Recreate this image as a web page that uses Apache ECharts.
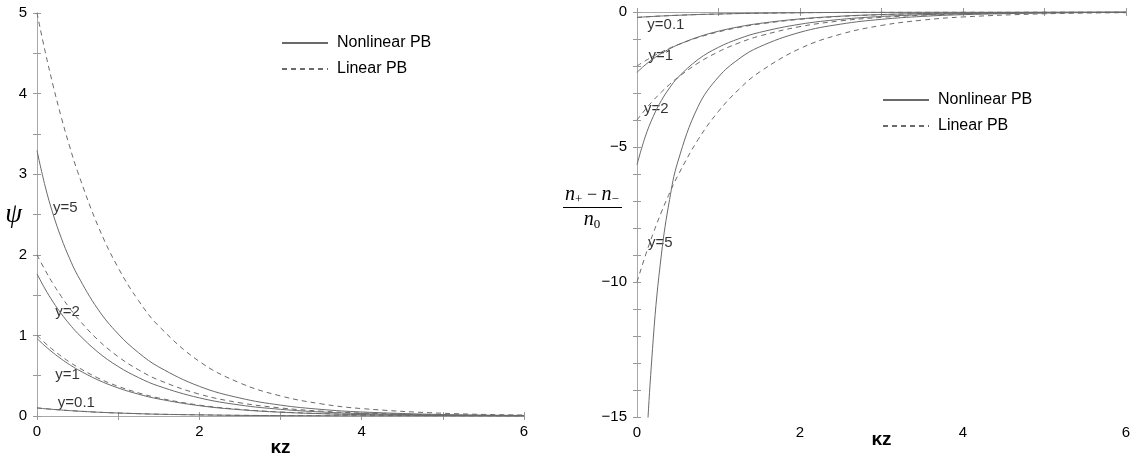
<!DOCTYPE html>
<html>
<head>
<meta charset="utf-8">
<script src="https://cdn.jsdelivr.net/npm/echarts@6/dist/echarts.min.js"></script>
<style>
html, body { margin: 0; padding: 0; background: #fff; }
#main { width: 1135px; height: 457px; }
</style>
</head>
<body>
<div id="main"></div>
<script>
// kz sample points (shared by every curve)
const kz = [0, 0.1, 0.2, 0.3, 0.4, 0.5, 0.75, 1, 1.25, 1.5, 2, 2.5, 3, 3.5, 4, 5, 6];

// left panel: psi
const psiNl5  = [3.294, 2.852, 2.498, 2.206, 1.958, 1.746, 1.326, 1.018, 0.786, 0.609, 0.368, 0.223, 0.135, 0.082, 0.050, 0.018, 0.007];
const psiNl2  = [1.763, 1.576, 1.412, 1.268, 1.141, 1.027, 0.793, 0.614, 0.477, 0.371, 0.225, 0.136, 0.083, 0.050, 0.030, 0.011, 0.004];
const psiNl1  = [0.962, 0.868, 0.783, 0.707, 0.638, 0.577, 0.448, 0.348, 0.271, 0.211, 0.128, 0.078, 0.047, 0.029, 0.017, 0.006, 0.002];
const psiNl01 = [0.100, 0.090, 0.082, 0.074, 0.067, 0.061, 0.047, 0.037, 0.029, 0.022, 0.014, 0.008, 0.005, 0.003, 0.002, 0.001, 0.000];
const psiLin5  = [5, 4.524, 4.094, 3.704, 3.352, 3.033, 2.362, 1.839, 1.433, 1.116, 0.677, 0.410, 0.249, 0.151, 0.092, 0.034, 0.012];
const psiLin2  = [2, 1.810, 1.637, 1.482, 1.341, 1.213, 0.945, 0.736, 0.573, 0.446, 0.271, 0.164, 0.100, 0.060, 0.037, 0.013, 0.005];
const psiLin1  = [1, 0.905, 0.819, 0.741, 0.670, 0.607, 0.472, 0.368, 0.287, 0.223, 0.135, 0.082, 0.050, 0.030, 0.018, 0.007, 0.002];
const psiLin01 = [0.1, 0.091, 0.082, 0.074, 0.067, 0.061, 0.047, 0.037, 0.029, 0.022, 0.014, 0.008, 0.005, 0.003, 0.002, 0.001, 0.000];

// right panel: (n+ - n-)/n0
const rhoNl5  = [-26.93, -17.27, -12.08, -8.965, -6.944, -5.554, -3.499, -2.405, -1.739, -1.295, -0.752, -0.449, -0.271, -0.164, -0.099, -0.037, -0.013];
const rhoNl2  = [-5.657, -4.629, -3.862, -3.274, -2.809, -2.434, -1.757, -1.307, -0.990, -0.758, -0.453, -0.273, -0.165, -0.100, -0.061, -0.022, -0.008];
const rhoNl1  = [-2.236, -1.962, -1.731, -1.534, -1.365, -1.218, -0.926, -0.711, -0.548, -0.425, -0.256, -0.155, -0.094, -0.057, -0.035, -0.013, -0.005];
const rhoNl01 = [-0.200, -0.181, -0.164, -0.148, -0.134, -0.121, -0.094, -0.074, -0.057, -0.045, -0.027, -0.016, -0.010, -0.006, -0.004, -0.001, 0];
const rhoLin5  = [-10, -9.048, -8.187, -7.408, -6.703, -6.065, -4.724, -3.679, -2.865, -2.231, -1.353, -0.821, -0.498, -0.302, -0.183, -0.067, -0.025];
const rhoLin2  = [-4, -3.619, -3.275, -2.963, -2.681, -2.426, -1.889, -1.472, -1.146, -0.893, -0.541, -0.328, -0.199, -0.121, -0.073, -0.027, -0.010];
const rhoLin1  = [-2, -1.810, -1.637, -1.482, -1.341, -1.213, -0.945, -0.736, -0.573, -0.446, -0.271, -0.164, -0.100, -0.060, -0.037, -0.013, -0.005];
const rhoLin01 = [-0.2, -0.181, -0.164, -0.148, -0.134, -0.121, -0.094, -0.074, -0.057, -0.045, -0.027, -0.016, -0.010, -0.006, -0.004, -0.001, 0];

// curve labels
const labelTxt = ['y=5', 'y=2', 'y=1', 'y=0.1'];
const labelKzL = [0.19, 0.22, 0.22, 0.25];
const labelPsi = [2.58, 1.29, 0.51, 0.16];
const labelKzR = [0.13, 0.08, 0.135, 0.12];
const labelRho = [-8.55, -3.6, -1.63, -0.48];

const legendNames = ['Nonlinear PB', 'Linear PB'];

let myChart = echarts.init(document.getElementById('main'));

const lineColor = '#6a6a6a';
const frameColor = '#a8a8a8';
const sans = '"Liberation Sans", Arial, sans-serif';
const serif = '"Liberation Serif", "DejaVu Serif", serif';

function pairs(vals) {
  return kz.map((x, i) => [x, vals[i]]);
}

function curve(name, vals, idx, dashed) {
  return {
    name: name,
    type: 'line',
    xAxisIndex: idx,
    yAxisIndex: idx,
    data: pairs(vals),
    symbol: 'none',
    showSymbol: false,
    smooth: 0.4,
    clip: true,
    silent: true,
    lineStyle: { color: lineColor, width: 1, type: dashed ? [5, 4] : 'solid' },
    itemStyle: { color: lineColor }
  };
}

function labels(xs, ys, idx) {
  return {
    type: 'scatter',
    xAxisIndex: idx,
    yAxisIndex: idx,
    symbolSize: 1,
    silent: true,
    itemStyle: { color: 'rgba(0,0,0,0)' },
    data: xs.map((x, i) => [x, ys[i], labelTxt[i]]),
    label: {
      show: true,
      position: 'right',
      distance: 0,
      formatter: p => p.data[2],
      color: '#000',
      fontSize: 15,
      fontFamily: sans
    }
  };
}

function xAxis(grid, pos, nameGap) {
  const main = pos === 'bottom';
  return {
    gridIndex: grid,
    type: 'value',
    position: pos,
    min: 0,
    max: 6,
    interval: 1,
    axisLine: { show: true, lineStyle: { color: frameColor, width: 1 } },
    axisTick: { show: true, inside: true, length: 4, lineStyle: { color: '#999' } },
    axisLabel: {
      show: main,
      margin: 8,
      color: '#000',
      fontSize: 15,
      fontFamily: sans,
      formatter: v => (v % 2 === 0 ? String(v) : '')
    },
    splitLine: { show: false },
    name: main ? 'κz' : '',
    nameLocation: 'middle',
    nameGap: nameGap,
    nameMoveOverlap: false,
    nameTextStyle: { color: '#000', fontSize: 19, fontWeight: 'bold', fontFamily: sans }
  };
}

function yAxis(grid, pos, min, max, interval, fmt) {
  const main = pos === 'left';
  return {
    gridIndex: grid,
    type: 'value',
    position: pos,
    min: min,
    max: max,
    interval: interval,
    axisLine: { show: true, lineStyle: { color: frameColor, width: 1 } },
    axisTick: { show: true, inside: true, length: 4, lineStyle: { color: '#999' } },
    axisLabel: { show: main, margin: 10, color: '#000', fontSize: 15, fontFamily: sans, formatter: fmt },
    splitLine: { show: false }
  };
}

const psiFmt = v => (Math.abs(v - Math.round(v)) < 1e-9 ? String(Math.round(v)) : '');
const rhoFmt = v => {
  if (Math.abs(v % 5) > 1e-9) return '';
  return v < 0 ? '\u2212' + (-v) : '0';
};

let leftY = yAxis(0, 'left', 0, 5, 0.5, psiFmt);
leftY.name = 'ψ';
leftY.nameLocation = 'middle';
leftY.nameRotate = 0;
leftY.nameGap = 15;
leftY.nameMoveOverlap = false;
leftY.nameTextStyle = { color: '#000', fontSize: 27, fontStyle: 'italic', fontFamily: serif };

const legendText = { color: '#000', fontSize: 16, fontFamily: sans, padding: [0, 0, 0, 4] };
const legendBase = {
  data: legendNames,
  orient: 'vertical',
  itemWidth: 46,
  itemHeight: 14,
  itemGap: 10,
  textStyle: legendText,
  selectedMode: false,
  // hide the symbol dot, keep only the line sample
  itemStyle: { color: 'rgba(0,0,0,0)', borderColor: 'rgba(0,0,0,0)', borderWidth: 0, opacity: 0 }
};

// rich text pieces for the fraction title
const fracRich = {
  i: { fontFamily: serif, fontStyle: 'italic', fontSize: 20, lineHeight: 22, verticalAlign: 'middle', color: '#000' },
  o: { fontFamily: serif, fontSize: 18, lineHeight: 22, verticalAlign: 'middle', color: '#000' },
  s: { fontFamily: serif, fontSize: 13, lineHeight: 13, verticalAlign: 'bottom', color: '#000' }
};

myChart.setOption({
  animation: false,
  backgroundColor: '#fff',
  grid: [
    { left: 37, right: 611, top: 13, bottom: 41, outerBoundsMode: 'none', containLabel: false },
    { left: 637, right: 9, top: 12, bottom: 40, outerBoundsMode: 'none', containLabel: false }
  ],
  legend: [
    Object.assign({}, legendBase, { left: 276, top: 30 }),
    Object.assign({}, legendBase, { left: 877, top: 87 })
  ],
  xAxis: [
    xAxis(0, 'bottom', 22),
    xAxis(0, 'top', 0),
    xAxis(1, 'bottom', 13),
    xAxis(1, 'top', 0)
  ],
  yAxis: [
    leftY,
    yAxis(0, 'right', 0, 5, 0.5, psiFmt),
    yAxis(1, 'left', -15, 0, 1, rhoFmt),
    yAxis(1, 'right', -15, 0, 1, rhoFmt)
  ],
  // fraction title of the right panel
  graphic: [
    {
      type: 'text', x: 592, y: 195,
      style: { text: '{i|n}{s|+}{o| − }{i|n}{s|−}', rich: fracRich,
        align: 'center', verticalAlign: 'middle', textAlign: 'center', textVerticalAlign: 'middle' }
    },
    { type: 'line', shape: { x1: 563, y1: 207.5, x2: 622, y2: 207.5 }, style: { stroke: '#000', lineWidth: 1 } },
    {
      type: 'text', x: 592, y: 220,
      style: { text: '{i|n}{s|0}', rich: fracRich,
        align: 'center', verticalAlign: 'middle', textAlign: 'center', textVerticalAlign: 'middle' }
    }
  ],
  series: [
    curve('Nonlinear PB', psiNl5, 0, false),
    curve('Nonlinear PB', psiNl2, 0, false),
    curve('Nonlinear PB', psiNl1, 0, false),
    curve('Nonlinear PB', psiNl01, 0, false),
    curve('Linear PB', psiLin5, 0, true),
    curve('Linear PB', psiLin2, 0, true),
    curve('Linear PB', psiLin1, 0, true),
    curve('Linear PB', psiLin01, 0, true),
    // right panel uses axes 2
    curve('Nonlinear PB', rhoNl5, 2, false),
    curve('Nonlinear PB', rhoNl2, 2, false),
    curve('Nonlinear PB', rhoNl1, 2, false),
    curve('Nonlinear PB', rhoNl01, 2, false),
    curve('Linear PB', rhoLin5, 2, true),
    curve('Linear PB', rhoLin2, 2, true),
    curve('Linear PB', rhoLin1, 2, true),
    curve('Linear PB', rhoLin01, 2, true),
    labels(labelKzL, labelPsi, 0),
    labels(labelKzR, labelRho, 2)
  ]
});
</script>
</body>
</html>
